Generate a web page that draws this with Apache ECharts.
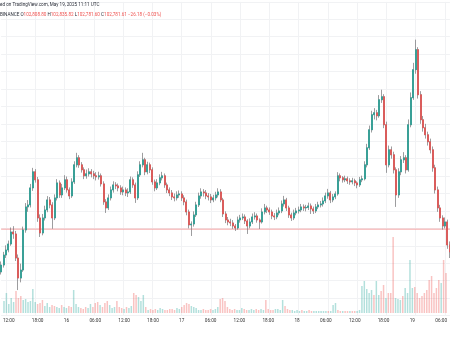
<!DOCTYPE html>
<html><head><meta charset="utf-8">
<script src="https://cdn.jsdelivr.net/npm/echarts@6/dist/echarts.min.js"></script>
<style>html,body{margin:0;padding:0;background:#fff}#c{width:450px;height:338px}</style>
</head><body><div id="c"></div>
<script>
// x-axis tick labels (every 6 hours, starting at 15 May 12:00)
const tickLabels = ['12:00','18:00','16','06:00','12:00','18:00','17','06:00','12:00','18:00','18','06:00','12:00','18:00','19','06:00'];
// 30-minute candles from 15 May 11:00: [open, close, low, high]
const candles = [
[101800,101958,101740,102040],[101958,102188,101900,102260],[102188,102303,102120,102410],[102303,102441,102250,102520],
[102441,102717,102400,102820],[102717,102671,102560,102850],[102671,102119,102050,102740],[102119,101659,101383,102200],
[101659,101843,101560,101990],[101843,102763,101800,102840],[102763,103292,102700,103380],[103292,103338,103180,103450],
[103338,103729,103280,103820],[103729,104097,103660,104189],[104097,103913,103850,104160],[103913,103039,102950,103980],
[103039,102694,102602,103120],[102694,103039,102640,103130],[103039,103223,102980,103320],[103223,103453,103170,103540],
[103453,103338,103260,103520],[103338,103039,102790,103400],[103039,103499,102990,103580],[103499,103844,103440,103930],
[103844,103568,103500,103900],[103568,103729,103500,103820],[103729,103913,103680,104020],[103913,103683,103620,103990],
[103683,103545,103470,103740],[103545,103867,103500,103950],[103867,104258,103820,104340],[104258,104419,104200,104534],
[104419,104258,104190,104480],[104258,104143,104080,104320],[104143,104005,103930,104200],[104005,104051,103940,104150],
[104051,104097,103990,104180],[104097,104051,103970,104160],[104051,104005,103930,104120],[104005,103982,103900,104090],
[103982,104005,103920,104100],[104005,103821,103760,104060],[103821,103407,103340,103880],[103407,103269,103154,103470],
[103269,103499,103220,103580],[103499,103683,103440,103760],[103683,103798,103620,103880],[103798,103775,103700,103860],
[103775,103729,103650,103830],[103729,103637,103570,103790],[103637,103683,103560,103760],[103683,103614,103540,103740],
[103614,103637,103520,103720],[103637,103913,103590,103990],[103913,103798,103730,103970],[103798,103499,103384,103850],
[103499,104028,103450,104110],[104028,104258,103980,104340],[104258,104373,104200,104534],[104373,104097,104020,104420],
[104097,104258,104040,104330],[104258,104143,104070,104310],[104143,103867,103800,104200],[103867,103729,103650,103920],
[103729,103844,103680,103930],[103844,103959,103790,104040],[103959,104005,103900,104097],[104005,103798,103730,104060],
[103798,103683,103610,103850],[103683,103614,103540,103740],[103614,103522,103450,103680],[103522,103499,103420,103600],
[103499,103568,103440,103650],[103568,103591,103500,103670],[103591,103499,103430,103650],[103499,103407,103330,103560],
[103407,103177,103100,103460],[103177,102878,102800,103230],[102878,102900,102625,102960],[102900,103108,102840,103190],
[103108,103338,103060,103410],[103338,103545,103290,103620],[103545,103637,103480,103720],[103637,103614,103530,103700],
[103614,103545,103470,103680],[103545,103522,103440,103610],[103522,103453,103380,103590],[103453,103499,103400,103570],
[103499,103568,103440,103640],[103568,103637,103510,103720],[103637,103453,103400,103700],[103453,103131,103060,103500],
[103131,102993,102920,103190],[102993,102947,102870,103060],[102947,102924,102850,103020],[102924,102855,102790,102990],
[102855,102809,102740,102900],[102809,102993,102770,103070],[102993,103039,102930,103110],[103039,103062,102990,103140],
[103062,102970,102900,103120],[102970,102855,102671,103010],[102855,102947,102800,103030],[102947,103062,102900,103140],
[103062,103085,103000,103170],[103085,102993,102930,103140],[102993,102947,102786,103030],[102947,103177,102910,103260],
[103177,103269,103120,103360],[103269,103223,103150,103320],[103223,103177,103110,103280],[103177,103085,103010,103230],
[103085,103062,102990,103150],[103062,103154,103010,103230],[103154,103200,103100,103280],[103200,103361,103150,103440],
[103361,103453,103300,103545],[103453,103269,103200,103500],[103269,103108,103040,103320],[103108,103039,102970,103160],
[103039,103154,102990,103230],[103154,103200,103100,103270],[103200,103223,103140,103300],[103223,103292,103170,103360],
[103292,103269,103200,103350],[103269,103280,103190,103340],[103280,103315,103220,103390],[103315,103246,103130,103370],
[103246,103200,103130,103300],[103200,103292,103150,103360],[103292,103338,103240,103410],[103338,103361,103280,103430],
[103361,103430,103300,103510],[103430,103545,103380,103620],[103545,103614,103480,103706],[103614,103453,103380,103660],
[103453,103522,103400,103590],[103522,103591,103470,103650],[103591,104005,103550,104090],[104005,103959,103880,104060],
[103959,103913,103850,104000],[103913,103936,103860,104010],[103936,103890,103820,103990],[103890,103867,103800,103950],
[103867,103890,103810,103960],[103890,103844,103770,103940],[103844,103798,103720,103880],[103798,103913,103750,103980],
[103913,103936,103860,104010],[103936,104258,103900,104340],[104258,104649,104200,104740],[104649,105063,104600,105160],
[105063,105408,105000,105500],[105408,105454,105300,105560],[105454,105385,105280,105520],[105385,105753,105340,105860],
[105753,105822,105680,105983],[105822,105178,105100,105880],[105178,104258,104074,105250],[104258,104603,104200,104700],
[104603,104488,104400,104680],[104488,104143,104060,104560],[104143,103568,103292,104200],[103568,104097,103500,104180],
[104097,104373,104020,104460],[104373,104419,104300,104550],[104419,104143,104060,104480],[104143,105178,104100,105300],
[105178,105799,105120,105920],[105799,106443,105750,106600],[106443,106903,106350,107133],[106903,105868,105780,106960],
[105868,105293,105200,105950],[105293,105109,105020,105380],[105109,104948,104860,105200],[104948,104787,104700,105020],
[104787,104603,104520,104860],[104603,104189,104100,104680],[104189,103683,103600,104260],[103683,103269,103180,103760],
[103269,103039,102950,103340],[103039,102855,102770,103100],[102855,102947,102800,103050],[102947,102418,102330,103000],
[102418,102257,102119,102500]
];
// volume per candle
const volumes = [
120,200,90,150,110,220,150,170,130,140,
110,120,240,110,90,100,130,70,100,60,
80,70,60,50,80,60,50,70,60,230,
90,60,50,40,60,50,90,60,100,110,
80,60,100,120,80,50,60,120,60,50,
40,60,50,70,200,180,160,120,180,60,
30,40,30,40,30,50,40,30,30,40,
40,30,50,40,60,80,100,90,70,60,
50,30,30,40,30,30,40,30,40,60,
140,150,120,60,40,30,40,30,30,50,
40,30,30,40,30,40,30,40,30,130,
40,30,30,40,40,30,130,70,40,30,
30,20,30,20,30,20,20,30,20,20,
20,20,20,20,20,20,20,80,100,30,
20,20,20,20,20,20,20,20,30,270,
320,240,200,230,180,320,180,220,280,150,
200,200,760,150,140,130,170,250,200,530,
250,260,200,150,170,200,230,330,370,200,
250,330,300,530,400
];
const lastPrice = 102781.61;
const headerLine1 = 'ed on TradingView.com, May 19, 2025 11:11 UTC';
const ohlcLabels = ['O','H','L','C'];
const ohlcValues = ['102,808.80','102,835.82','102,781.60','102,781.61'];
const changeText = '\u221226.18 (\u22120.03%)';

const categories = [];
for (let i = 0; i < candles.length; i++) {
  const m = (15 * 24 + 11) * 60 + i * 30;
  const d = Math.floor(m / 1440), hh = Math.floor((m % 1440) / 60), mm = m % 60;
  categories.push(d + ' ' + String(hh).padStart(2, '0') + ':' + String(mm).padStart(2, '0'));
}
const tickMap = {};
tickLabels.forEach((t, k) => { tickMap[2 + 12 * k] = t; });

const UP = '#26a69a', DOWN = '#ef5350', WICK = '#737375', PRICE_LINE = '#f4a4a3';
// bodies only (same open/close, no wick) drawn over the gray wicks
const bodies = candles.map(c => [c[0], c[1], Math.min(c[0], c[1]), Math.max(c[0], c[1])]);
// last-price level spanning the whole time range
const priceLine = [[categories[0], lastPrice], [categories[categories.length - 1], lastPrice]];
let line2 = '{d|BINANCE }';
ohlcLabels.forEach((l, k) => { line2 += '{d|' + l + '}{r|' + ohlcValues[k] + ' }'; });
line2 += '{r|' + changeText + '}';
const FONT = 'Roboto';
const chart = echarts.init(document.getElementById('c'));
chart.setOption({
  animation: false,
  backgroundColor: '#ffffff',
  title: [
    {text: headerLine1, left: 0, top: 2.6, padding: 0,
     textStyle: {fontSize: 4.6, fontWeight: 'normal', color: '#2a2e39', fontFamily: FONT}},
    {text: line2, left: 0, top: 12.6, padding: 0,
     textStyle: {fontSize: 4.6, fontWeight: 'normal', fontFamily: FONT,
       rich: {d: {color: '#2a2e39', fontSize: 4.6, fontFamily: FONT},
              r: {color: '#ef5350', fontSize: 4.6, fontFamily: FONT}}}}
  ],
  grid: [
    {left: 1.122, width: 448.76, top: 1.86, height: 313.6},
    {left: 1.122, width: 448.76, top: 230, height: 83}
  ],
  xAxis: [
    {type: 'category', data: categories, boundaryGap: false, gridIndex: 0,
     axisLine: {show: false}, axisTick: {show: false}, axisLabel: {show: false},
     splitLine: {show: true, interval: (i) => tickMap[i] !== undefined, lineStyle: {color: '#f1f2f4', width: 1}}},
    {type: 'category', data: categories, boundaryGap: false, gridIndex: 1,
     axisLine: {show: false}, axisTick: {show: false}, splitLine: {show: false},
     axisLabel: {show: true, interval: (i) => tickMap[i] !== undefined, formatter: (v, i) => tickMap[i] || '',
       color: '#333', fontSize: 4.7, fontFamily: FONT, margin: 5}}
  ],
  yAxis: [
    {type: 'value', gridIndex: 0, min: 100800, max: 108000, interval: 400,
     axisLine: {show: false}, axisTick: {show: false}, axisLabel: {show: false},
     splitLine: {show: true, lineStyle: {color: '#f1f2f4', width: 1}}},
    {type: 'value', gridIndex: 1, min: 0, max: 830,
     axisLine: {show: false}, axisTick: {show: false}, axisLabel: {show: false}, splitLine: {show: false}}
  ],
  series: [
    {type: 'bar', xAxisIndex: 1, yAxisIndex: 1, barWidth: 1.5, z: 1,
     data: volumes.map((v, i) => ({value: v, itemStyle: {color: candles[i][1] >= candles[i][0] ? 'rgba(38,166,154,0.35)' : 'rgba(239,83,80,0.35)'}}))},
    {type: 'line', xAxisIndex: 0, yAxisIndex: 0, data: priceLine, z: 2, silent: true,
     showSymbol: false, symbol: 'none', color: PRICE_LINE,
     lineStyle: {color: PRICE_LINE, width: 1, type: 'solid', opacity: 1}},
    {type: 'candlestick', xAxisIndex: 0, yAxisIndex: 0, data: candles, barWidth: 1.5, z: 3,
     itemStyle: {color: WICK, color0: WICK, borderColor: WICK, borderColor0: WICK, borderWidth: 0.7}},
    {type: 'candlestick', xAxisIndex: 0, yAxisIndex: 0, data: bodies, barWidth: 1.5, z: 4,
     itemStyle: {color: UP, color0: DOWN, borderColor: UP, borderColor0: DOWN, borderWidth: 0.6}}
  ]
});
</script></body></html>
